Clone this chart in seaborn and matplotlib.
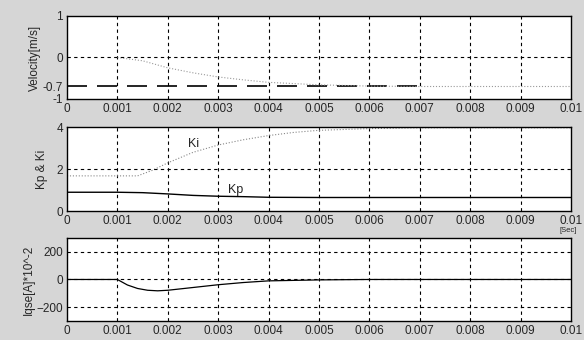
import matplotlib
matplotlib.use("Agg")
import matplotlib.pyplot as plt
import seaborn as sns

# time axis ticks
xticks = [0, 0.001, 0.002, 0.003, 0.004, 0.005, 0.006, 0.007, 0.008, 0.009, 0.01]
xtick_labels = ['0', '0.001', '0.002', '0.003', '0.004', '0.005', '0.006', '0.007', '0.008', '0.009', '0.01']

# velocity (panel 1)
vel_t = [0.001, 0.0015, 0.002, 0.0025, 0.003, 0.0035, 0.004, 0.0045, 0.005, 0.006, 0.007, 0.008, 0.01]
vel_v = [0.0, -0.08, -0.25, -0.37, -0.47, -0.54, -0.6, -0.63, -0.66, -0.69, -0.7, -0.7, -0.7]
ref_t = [0, 0.007]
ref_v = [-0.7, -0.7]

# gains (panel 2)
ki_t = [0, 0.0014, 0.0017, 0.002, 0.0025, 0.003, 0.0035, 0.004, 0.0045, 0.005, 0.006, 0.007, 0.008, 0.01]
ki_v = [1.68, 1.68, 1.95, 2.3, 2.8, 3.15, 3.4, 3.6, 3.75, 3.85, 3.93, 3.97, 3.97, 3.97]
kp_t = [0, 0.001, 0.0015, 0.002, 0.0025, 0.003, 0.0035, 0.004, 0.005, 0.01]
kp_v = [0.9, 0.9, 0.88, 0.82, 0.75, 0.71, 0.69, 0.66, 0.65, 0.65]

# current (panel 3)
iq_t = [0, 0.001, 0.0012, 0.0014, 0.0016, 0.0018, 0.002, 0.0025, 0.003, 0.0035, 0.004, 0.005, 0.006, 0.01]
iq_v = [0, 0, -40, -65, -78, -82, -78, -58, -38, -22, -10, -3, 0, 0]

sns.set_style("white")
plt.rcParams['font.family'] = ['Liberation Sans', 'DejaVu Sans']

fig = plt.figure(figsize=(5.84, 3.4), dpi=100)
fig.patch.set_facecolor('#d6d6d6')

left, width = 0.1147, 0.863
ax1 = fig.add_axes([left, 0.709, width, 0.244])
ax2 = fig.add_axes([left, 0.379, width, 0.247])
ax3 = fig.add_axes([left, 0.056, width, 0.244])

grid_ls = (0, (3, 3))

sns.lineplot(x=ref_t, y=ref_v, ax=ax1, color='black', lw=1.2, linestyle=(0, (12, 6)))
sns.lineplot(x=vel_t, y=vel_v, ax=ax1, color='#999999', lw=0.8, linestyle=':')
sns.lineplot(x=ki_t, y=ki_v, ax=ax2, color='#888888', lw=0.8, linestyle=':')
sns.lineplot(x=kp_t, y=kp_v, ax=ax2, color='black', lw=1.0)
sns.lineplot(x=iq_t, y=iq_v, ax=ax3, color='black', lw=0.9)

ax1.set_ylim(-1, 1)
ax1.set_yticks([1, 0, -0.7, -1])
ax1.set_yticklabels(['1', '0', '-0.7', '-1'])
ax1.axhline(0, color='black', lw=0.8, ls=grid_ls)
ax1.set_ylabel('Velocity[m/s]', fontsize=8.5, labelpad=1)

ax2.set_ylim(0, 4)
ax2.set_yticks([0, 2, 4])
ax2.axhline(2, color='black', lw=0.8, ls=grid_ls)
ax2.set_ylabel('Kp & Ki', fontsize=8.5, labelpad=6)
ax2.text(0.0024, 3.05, 'Ki', fontsize=9)
ax2.text(0.0032, 0.85, 'Kp', fontsize=9)
ax2.text(0.00977, -1.0, '[Sec]', fontsize=5.5)

ax3.set_ylim(-300, 300)
ax3.set_yticks([200, 0, -200])
for y in [200, 0, -200]:
    ax3.axhline(y, color='black', lw=0.8, ls=grid_ls, zorder=0)
ax3.set_ylabel('Iqse[A]*10^-2', fontsize=8.5, labelpad=1)

for ax in (ax1, ax2, ax3):
    ax.set_facecolor('white')
    ax.set_xlim(0, 0.01)
    ax.set_xticks(xticks)
    ax.set_xticklabels(xtick_labels)
    ax.set_xlabel('')
    for x in xticks[1:-1]:
        ax.axvline(x, color='black', lw=0.8, ls=grid_ls, zorder=0)
    ax.tick_params(length=0, labelsize=8.5, pad=3)
    for s in ax.spines.values():
        s.set_color('black')
        s.set_linewidth(1.0)

fig.savefig('out.png', dpi=100, facecolor=fig.get_facecolor())
